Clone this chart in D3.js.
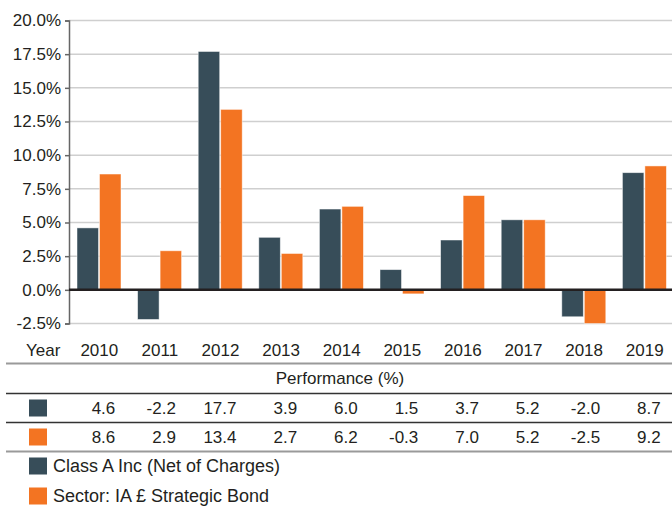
<!DOCTYPE html>
<head>
<meta charset="utf-8">
<title>Performance</title>
<script src="https://d3js.org/d3.v7.min.js"></script>
<style>
  body { margin: 0; background: #fff; }
  text { font-family: "Liberation Sans", Arial, sans-serif; fill: #231f20; }
</style>
</head>
<body>
<div id="chart"></div>
<script>
// data
var years = ["2010", "2011", "2012", "2013", "2014", "2015", "2016", "2017", "2018", "2019"];
var fund = [4.6, -2.2, 17.7, 3.9, 6.0, 1.5, 3.7, 5.2, -2.0, 8.7];
var sector = [8.6, 2.9, 13.4, 2.7, 6.2, -0.3, 7.0, 5.2, -2.5, 9.2];
var seriesNames = ["Class A Inc (Net of Charges)", "Sector: IA \u00a3 Strategic Bond"];
var yTicks = [-2.5, 0, 2.5, 5, 7.5, 10, 12.5, 15, 17.5, 20];

var colors = ["#374d59", "#f37422"];
var W = 672, H = 506;

var svg = d3.select("#chart").append("svg")
  .attr("width", W).attr("height", H);

var x = d3.scaleBand().domain(years).range([69, 675]);
var y = d3.scaleLinear().domain([-2.5, 20]).range([323.5, 20.5]);
var fs = 17;

// grid
svg.append("g").selectAll("line")
  .data(yTicks.filter(function(d) { return d !== 0; }))
  .enter().append("line")
    .attr("x1", 69).attr("x2", W)
    .attr("y1", function(d) { return y(d); })
    .attr("y2", function(d) { return y(d); })
    .attr("stroke", "#cfcfcf").attr("stroke-width", 1.5);

// y axis
var yAxis = svg.append("g")
  .attr("transform", "translate(69,0)")
  .call(d3.axisLeft(y).tickValues(yTicks).tickSize(4).tickPadding(4)
    .tickFormat(function(d) { return d.toFixed(1) + "%"; }));
yAxis.select(".domain").attr("stroke", "#666").attr("stroke-width", 1.5);
yAxis.selectAll(".tick line").attr("stroke", "#666").attr("stroke-width", 1.5);
yAxis.selectAll("text")
  .style("font-family", "'Liberation Sans', Arial, sans-serif")
  .style("font-size", fs + "px").attr("fill", "#231f20");

// bars
var barW = 21.5, gap = 1, off = 8;
var series = [fund, sector];
series.forEach(function(vals, s) {
  svg.append("g").selectAll("rect")
    .data(vals)
    .enter().append("rect")
      .attr("x", function(d, i) { return x(years[i]) + off + s * (barW + gap); })
      .attr("y", function(d) { return y(Math.max(0, d)); })
      .attr("width", barW)
      .attr("height", function(d) { return Math.abs(y(d) - y(0)); })
      .attr("fill", colors[s])
      .attr("stroke", "#fff").attr("stroke-opacity", 0.6).attr("stroke-width", 0.8);
});

// zero line
svg.append("line")
  .attr("x1", 69).attr("x2", W)
  .attr("y1", y(0)).attr("y2", y(0))
  .attr("stroke", "#231f20").attr("stroke-width", 2.5);

// table
var rowY = { year: 350, title: 378, r1: 408, r2: 437 };
svg.append("text").attr("x", 26).attr("y", rowY.year).attr("dy", "0.35em")
  .style("font-size", fs + "px").text("Year");
svg.append("g").selectAll("text")
  .data(years).enter().append("text")
    .attr("x", function(d) { return x(d) + x.bandwidth() / 2; })
    .attr("y", rowY.year).attr("dy", "0.35em")
    .attr("text-anchor", "middle")
    .style("font-size", fs + "px")
    .text(function(d) { return d; });

svg.append("text").attr("x", 340).attr("y", rowY.title).attr("dy", "0.35em")
  .attr("text-anchor", "middle")
  .style("font-size", "17px").text("Performance (%)");

[rowY.r1, rowY.r2].forEach(function(ry, s) {
  svg.append("rect").attr("x", 29).attr("y", ry - 8.5)
    .attr("width", 18).attr("height", 17).attr("fill", colors[s]);
  svg.append("g").selectAll("text")
    .data(series[s]).enter().append("text")
      .attr("x", function(d, i) { return x(years[i]) + x.bandwidth() / 2 + 16; })
      .attr("y", ry).attr("dy", "0.35em")
      .attr("text-anchor", "end")
      .style("font-size", fs + "px")
      .text(function(d) { return d.toFixed(1); });
});

var rules = [
  { y: 363.5, c: "#9a9a9a", w: 2 },
  { y: 393.5, c: "#333", w: 1.5 },
  { y: 422.5, c: "#333", w: 1.5 },
  { y: 451.5, c: "#9a9a9a", w: 2 }
];
svg.append("g").selectAll("line")
  .data(rules).enter().append("line")
    .attr("x1", 6).attr("x2", W)
    .attr("y1", function(d) { return d.y; })
    .attr("y2", function(d) { return d.y; })
    .attr("stroke", function(d) { return d.c; })
    .attr("stroke-width", function(d) { return d.w; });

// legend
seriesNames.forEach(function(name, s) {
  var ly = 466 + s * 30;
  svg.append("rect").attr("x", 29).attr("y", ly - 8.5)
    .attr("width", 18).attr("height", 17).attr("fill", colors[s]);
  svg.append("text").attr("x", 53).attr("y", ly).attr("dy", "0.35em")
    .style("font-size", "18px").text(name);
});
</script>
</body>
